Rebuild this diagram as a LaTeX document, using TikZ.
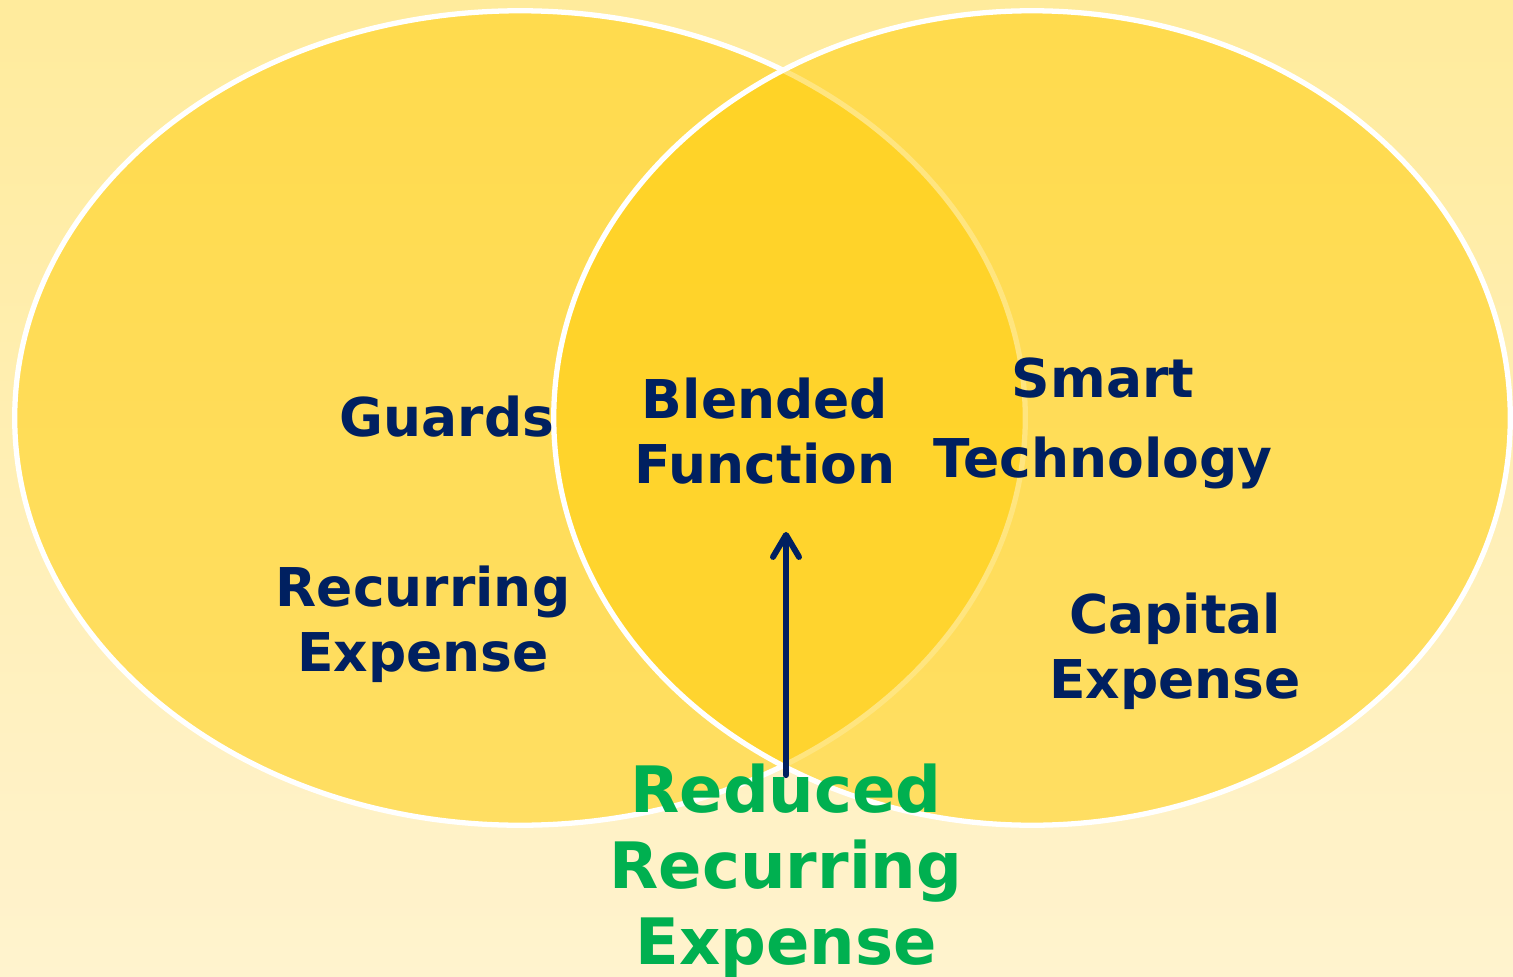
\documentclass[tikz,border=0pt]{standalone}
\usepackage{fontspec}
\setmainfont{DejaVu Sans}
\usetikzlibrary{arrows.meta}
\definecolor{navytext}{HTML}{002060}
\definecolor{greentext}{HTML}{00B050}
\definecolor{goldfill}{HTML}{FFCC00}
\definecolor{bgtop}{HTML}{FFEB9C}
\definecolor{bgbottom}{HTML}{FFF3CE}
\begin{document}
\begin{tikzpicture}[x=0.01cm, y=-0.01cm]
    % Define styles
    \tikzset{
        setbox/.style={fill=goldfill, fill opacity=0.5, draw=white, draw opacity=1, line width=1.5pt},
        labelbox/.style={text=navytext, inner sep=0pt, align=center, font=\bfseries\fontsize{15.2}{18.5}\selectfont},
        resultbox/.style={text=greentext, inner sep=0pt, align=center, font=\bfseries\fontsize{18.2}{21.6}\selectfont},
        thickarrow/.style={-{Straight Barb[length=0.22cm, width=0.26cm, round]}, line width=1.7pt, draw=navytext, line cap=round}
    }

    % Background
    \useasboundingbox (0,0) rectangle (1513,976);
    \fill[top color=bgtop, bottom color=bgbottom] (0,0) rectangle (1513,976);

    % The two sets
    \draw[setbox] (520,418) ellipse [x radius=5.05cm, y radius=4.07cm];
    \draw[setbox] (1032,418) ellipse [x radius=4.78cm, y radius=4.07cm];

    % Labels of the sets
    \node[labelbox, anchor=base] (guards) at (447,436) {Guards};
    \node[labelbox] (recurring) at (423,624.5) {Recurring\\Expense};
    \node[labelbox] (smart) at (1103,423.5) {Smart\\[4.3pt]Technology};
    \node[labelbox] (capital) at (1175,651.5) {Capital\\Expense};

    % Overlap
    \node[labelbox] (blended) at (765,431) {Blended\\Function};

    % Result below
    \node[resultbox] (reduced) at (786,870.7) {Reduced\\Recurring\\Expense};

    % Arrow up into the overlap
    \draw[thickarrow, shorten <=-0.12cm, shorten >=0.47cm] (reduced.north) -- (reduced.north |- blended.south);

\end{tikzpicture}
\end{document}
